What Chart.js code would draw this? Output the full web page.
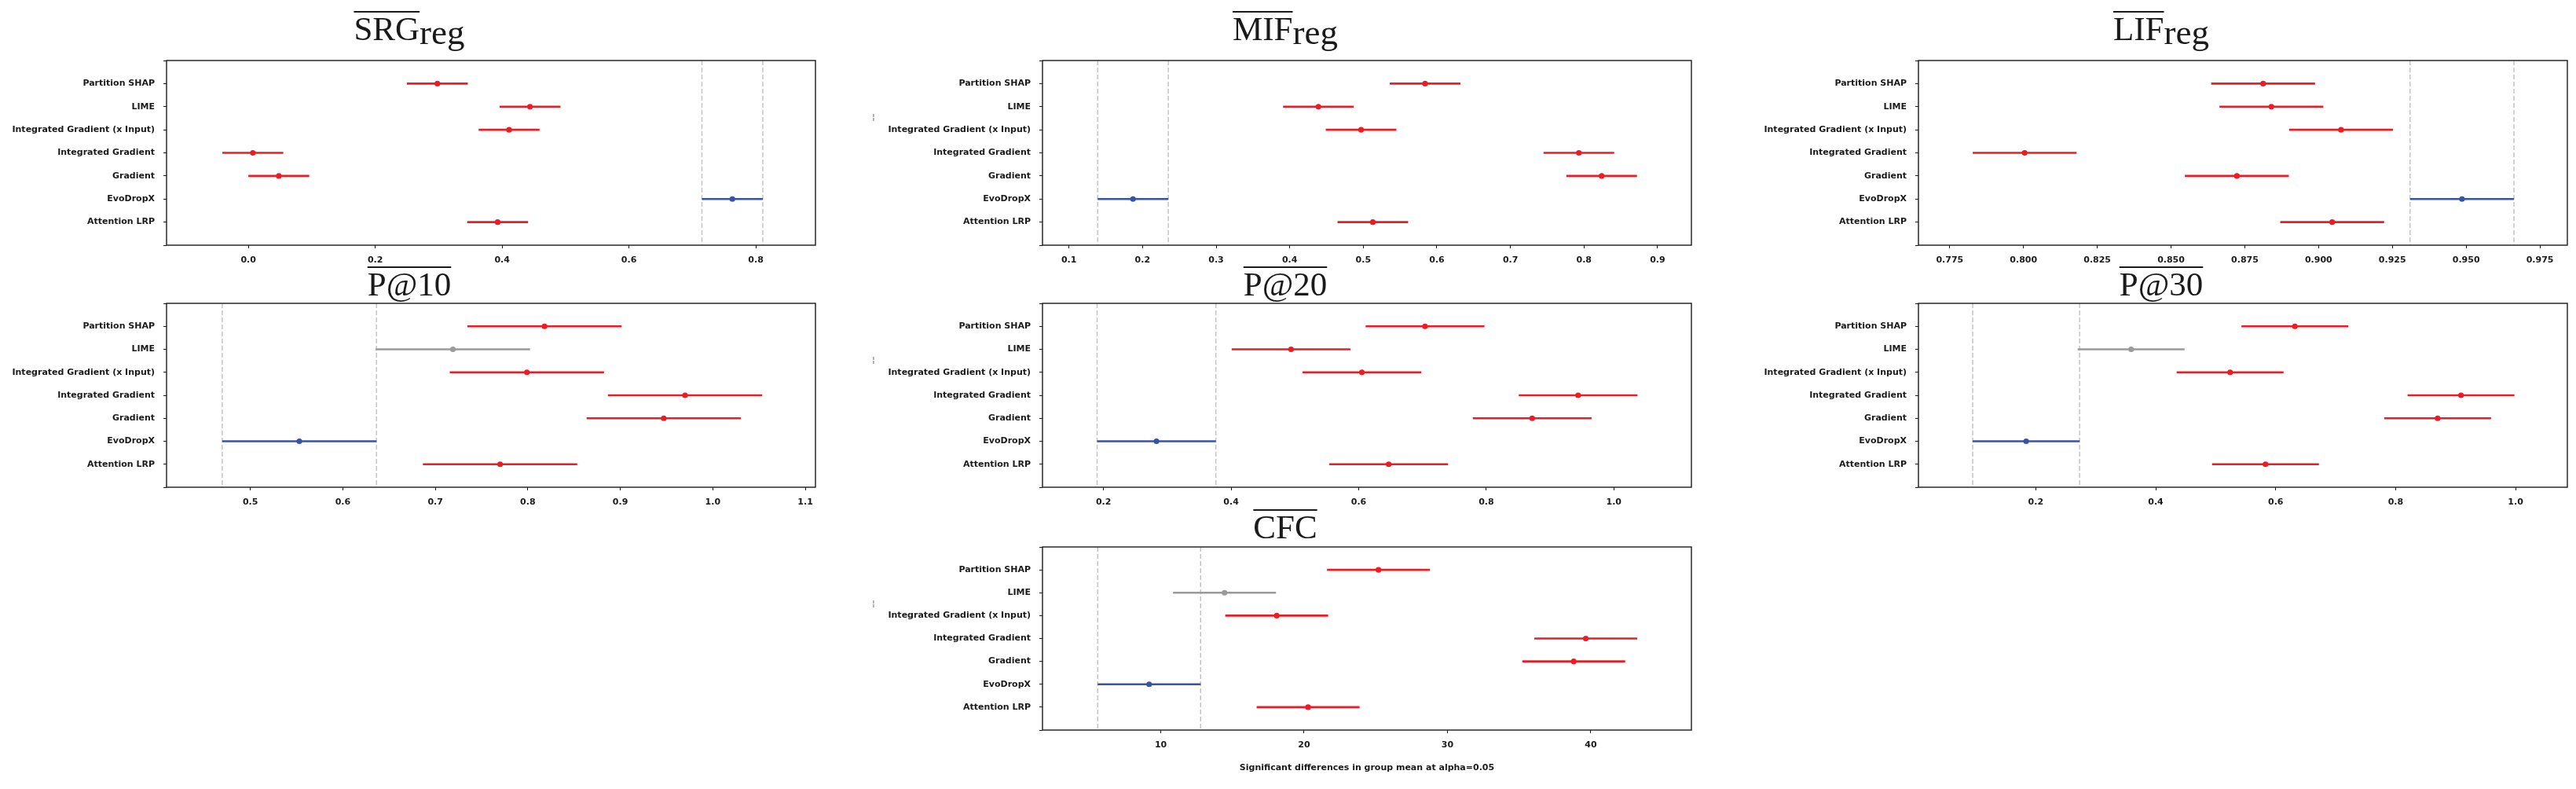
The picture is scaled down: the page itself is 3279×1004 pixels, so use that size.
<!DOCTYPE html>
<html>
<head>
<meta charset="utf-8">
<script src="https://cdn.jsdelivr.net/npm/chart.js@4.4.1/dist/chart.umd.min.js"></script>
<style>
  html, body { margin: 0; padding: 0; background: #fff; overflow: hidden; }
  #figure { position: relative; width: 3279px; height: 1004px; }
  #figure canvas { position: absolute; }
</style>
</head>
<body>
<div id="figure"></div>
<script>
// methods, top to bottom on every panel
const categories = ['Partition SHAP', 'LIME', 'Integrated Gradient (x Input)', 'Integrated Gradient', 'Gradient', 'EvoDropX', 'Attention LRP'];

// group means (same order as categories)
const srgMeans = [0.298, 0.444, 0.411, 0.007, 0.048, 0.763, 0.393];
const mifMeans = [0.584, 0.439, 0.497, 0.793, 0.824, 0.187, 0.513];
const lifMeans = [0.8812, 0.8840, 0.9076, 0.8004, 0.8723, 0.9486, 0.9046];
const p10Means = [0.818, 0.719, 0.799, 0.970, 0.947, 0.553, 0.770];
const p20Means = [0.704, 0.494, 0.605, 0.944, 0.872, 0.283, 0.647];
const p30Means = [0.632, 0.359, 0.524, 0.909, 0.870, 0.184, 0.583];
const cfcMeans = [25.19, 14.45, 18.09, 39.65, 38.81, 9.19, 20.28];

// half width of the simultaneous confidence interval, one per panel
const srgHalf = 0.048, mifHalf = 0.048, lifHalf = 0.0176, p10Half = 0.0834, p20Half = 0.0931, p30Half = 0.0891, cfcHalf = 3.59;

// 'sig' = differs from EvoDropX, 'ns' = does not, 'ref' = EvoDropX
const allSig = ['sig', 'sig', 'sig', 'sig', 'sig', 'ref', 'sig'];
const limeNs = ['sig', 'ns', 'sig', 'sig', 'sig', 'ref', 'sig'];

// x axis range and ticks of each panel
const srgRange = [-0.129, 0.894], srgTicks = [0, 0.2, 0.4, 0.6, 0.8];
const mifRange = [0.064, 0.946], mifTicks = [0.1, 0.2, 0.3, 0.4, 0.5, 0.6, 0.7, 0.8, 0.9];
const lifRange = [0.7644, 0.9843], lifTicks = [0.775, 0.8, 0.825, 0.85, 0.875, 0.9, 0.925, 0.95, 0.975];
const p10Range = [0.4094, 1.111], p10Ticks = [0.5, 0.6, 0.7, 0.8, 0.9, 1.0, 1.1];
const p20Range = [0.1043, 1.1216], p20Ticks = [0.2, 0.4, 0.6, 0.8, 1.0];
const p30Range = [0.0044, 1.0863], p30Ticks = [0.2, 0.4, 0.6, 0.8, 1.0];
const cfcRange = [1.75, 47.02], cfcTicks = [10, 20, 30, 40];

const xLabel = 'Significant differences in group mean at alpha=0.05';

const COLORS = { sig: '#ec1c24', ns: '#9a9a9a', ref: '#3853a4' };
const INK = '#1a1a1a';

// page layout (pixels)
const colLeft = [212, 1327, 2442];
const yAxisW = [212, 220, 212];
const BOX_W = 826;
const PAD_RIGHT = 8;
const boxTop = [77, 386, 696];
const boxH = [235, 234, 233];
const canvasTop = [0, 338, 646];
const canvasBottom = [340, 648, 1004];
const titleBase = [51, 376, 685];

const panels = [
    { title: 'SRG', sub: 'reg', means: srgMeans, half: srgHalf, groups: allSig, range: srgRange, ticks: srgTicks, dec: 1, row: 0, col: 0 },
    { title: 'MIF', sub: 'reg', means: mifMeans, half: mifHalf, groups: allSig, range: mifRange, ticks: mifTicks, dec: 1, row: 0, col: 1 },
    { title: 'LIF', sub: 'reg', means: lifMeans, half: lifHalf, groups: allSig, range: lifRange, ticks: lifTicks, dec: 3, row: 0, col: 2 },
    { title: 'P@10', sub: '', means: p10Means, half: p10Half, groups: limeNs, range: p10Range, ticks: p10Ticks, dec: 1, row: 1, col: 0 },
    { title: 'P@20', sub: '', means: p20Means, half: p20Half, groups: allSig, range: p20Range, ticks: p20Ticks, dec: 1, row: 1, col: 1 },
    { title: 'P@30', sub: '', means: p30Means, half: p30Half, groups: limeNs, range: p30Range, ticks: p30Ticks, dec: 1, row: 1, col: 2 },
    { title: 'CFC', sub: '', means: cfcMeans, half: cfcHalf, groups: limeNs, range: cfcRange, ticks: cfcTicks, dec: 0, row: 2, col: 1, xTitle: true }
];

// box outline, overlined title and the little mark left of the middle column
const framePlugin = {
    id: 'frame',
    afterDraw(chart, args, opts) {
        const { ctx, chartArea: a } = chart;
        ctx.save();
        ctx.strokeStyle = INK;
        ctx.lineWidth = 1.4;
        ctx.strokeRect(a.left, a.top, a.right - a.left, a.bottom - a.top);

        ctx.fillStyle = INK;
        ctx.textBaseline = 'alphabetic';
        ctx.textAlign = 'left';
        const mainFont = '43px "Liberation Serif"';
        const subFont = '45px "Liberation Serif"';
        ctx.font = mainFont;
        const w1 = ctx.measureText(opts.title).width;
        ctx.font = subFont;
        const w2 = opts.sub ? ctx.measureText(opts.sub).width : 0;
        const cx = (a.left + a.right) / 2 - 104;
        const x0 = cx - (w1 + w2) / 2;
        ctx.font = mainFont;
        ctx.fillText(opts.title, x0, opts.base);
        if (opts.sub) {
            ctx.font = subFont;
            ctx.fillText(opts.sub, x0 + w1, opts.base + 4.5);
        }
        ctx.fillRect(x0, opts.base - 37, w1, 2);

        if (opts.mark) {
            ctx.font = '10px "DejaVu Sans"';
            ctx.fillStyle = '#555';
            ctx.textAlign = 'center';
            ctx.textBaseline = 'middle';
            ctx.fillText('\u00a6', 5, a.top + 72);
        }
        ctx.restore();
    }
};

function makePanel(p) {
    const figure = document.getElementById('figure');
    const canvas = document.createElement('canvas');
    const yW = yAxisW[p.col];
    const top = canvasTop[p.row];
    const padTop = boxTop[p.row] - top;
    const xAxisH = canvasBottom[p.row] - boxTop[p.row] - boxH[p.row];
    canvas.width = yW + BOX_W + PAD_RIGHT;
    canvas.height = canvasBottom[p.row] - top;
    canvas.style.left = (colLeft[p.col] - yW) + 'px';
    canvas.style.top = top + 'px';
    figure.appendChild(canvas);

    const datasets = [];
    datasets.push({
        type: 'scatter',
        data: p.means.map((m, i) => ({ x: m, y: i })),
        pointBackgroundColor: p.groups.map(g => COLORS[g]),
        pointBorderWidth: 0,
        pointRadius: 3.6
    });
    p.means.forEach((m, i) => {
        datasets.push({
            type: 'line',
            data: [{ x: m - p.half, y: i }, { x: m + p.half, y: i }],
            borderColor: COLORS[p.groups[i]],
            borderWidth: 2.6,
            pointRadius: 0
        });
    });
    // dashed lines at the EvoDropX interval ends
    const ref = p.groups.indexOf('ref');
    [p.means[ref] - p.half, p.means[ref] + p.half].forEach(v => {
        datasets.push({
            type: 'line',
            data: [{ x: v, y: -1 }, { x: v, y: 7 }],
            borderColor: '#c4c4c4',
            borderWidth: 1.5,
            borderDash: [6, 3],
            pointRadius: 0
        });
    });

    const tickFont = { family: '"DejaVu Sans"', size: 11, weight: 'bold' };
    const tickGrid = { display: true, drawOnChartArea: false, drawTicks: true, tickLength: 4, color: INK, lineWidth: 1 };

    new Chart(canvas, {
        type: 'scatter',
        data: { datasets: datasets },
        options: {
            responsive: false,
            animation: false,
            events: [],
            layout: { padding: { left: 0, top: padTop, right: PAD_RIGHT, bottom: 0 } },
            plugins: {
                legend: { display: false },
                tooltip: { enabled: false },
                frame: { title: p.title, sub: p.sub, base: titleBase[p.row] - top, mark: p.col === 1 }
            },
            scales: {
                x: {
                    type: 'linear',
                    min: p.range[0],
                    max: p.range[1],
                    afterBuildTicks: axis => { axis.ticks = p.ticks.map(v => ({ value: v })); },
                    afterFit: axis => { axis.height = xAxisH; },
                    ticks: {
                        callback: v => v.toFixed(p.dec),
                        font: tickFont,
                        color: INK,
                        padding: 9,
                        maxRotation: 0,
                        autoSkip: false
                    },
                    grid: tickGrid,
                    border: { display: false },
                    title: {
                        display: !!p.xTitle,
                        text: xLabel,
                        font: tickFont,
                        color: INK,
                        padding: { top: 0, bottom: 20 }
                    }
                },
                y: {
                    type: 'linear',
                    min: -1,
                    max: 7,
                    reverse: true,
                    afterBuildTicks: axis => {
                        const t = [];
                        for (let i = -1; i <= categories.length; i++) t.push({ value: i });
                        axis.ticks = t;
                    },
                    afterFit: axis => { axis.width = yW; },
                    ticks: {
                        callback: v => categories[v] || '',
                        font: tickFont,
                        color: INK,
                        padding: 11,
                        autoSkip: false
                    },
                    grid: tickGrid,
                    border: { display: false }
                }
            }
        },
        plugins: [framePlugin]
    });
}

panels.forEach(makePanel);
</script>
</body>
</html>
